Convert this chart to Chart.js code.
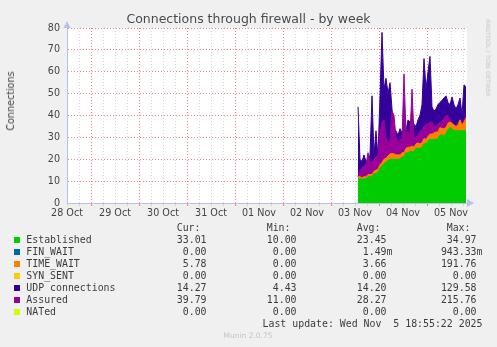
<!DOCTYPE html>
<html>
<head>
<meta charset="utf-8">
<script src="https://cdn.jsdelivr.net/npm/chart.js@4.4.0/dist/chart.umd.min.js"></script>
<style>
  html, body { margin: 0; padding: 0; background: #f0f0f0; }
  #wrap { position: relative; width: 497px; height: 347px; overflow: hidden; font-family: "DejaVu Sans", sans-serif; }
  #myChart { position: absolute; left: 0; top: 0; }
  .t { position: absolute; white-space: pre; line-height: 12px; color: #3c3c3c; }
  .mono { font-family: "DejaVu Sans Mono", monospace; font-size: 9.9px; }
  .sq { position: absolute; width: 6px; height: 6px; }
</style>
</head>
<body>
<div id="wrap">
  <canvas id="myChart" width="497" height="347"></canvas>
  <div class="t" style="left:0;width:497px;top:11px;line-height:15px;text-align:center;font-size:12.5px;color:#4a4a4a;">Connections through firewall - by week</div>
  <div class="t" style="left:11px;top:101px;font-size:9.6px;color:#444;transform:translate(-50%,-50%) rotate(-90deg);">Connections</div>
  <div class="t" style="left:488px;top:58px;font-size:6px;color:#c4c4c4;transform:translate(-50%,-50%) rotate(90deg);">RRDTOOL / TOBI OETIKER</div>
</div>
<script>
// hours since 28 Oct 00:00, one sample per hour
const hours = [145.5, 146.5, 147.5, 148.5, 149.5, 150.5, 151.5, 152.5, 153.5, 154.5,
  155.5, 156.5, 157.5, 158.5, 159.5, 160.5, 161.5, 162.5, 163.5, 164.5,
  165.5, 166.5, 167.5, 168.5, 169.5, 170.5, 171.5, 172.5, 173.5, 174.5,
  175.5, 176.5, 177.5, 178.5, 179.5, 180.5, 181.5, 182.5, 183.5, 184.5,
  185.5, 186.5, 187.5, 188.5, 189.5, 190.5, 191.5, 192.5, 193.5, 194.5,
  195.5, 196.5, 197.5, 198.5, 199.5];

const established = [11, 11, 11, 11, 11, 12, 12, 12, 13.5, 13.5,
  14, 16, 17, 18, 18.5, 19.5, 20, 20, 20, 20,
  20, 20, 21, 21, 23, 23, 23.5, 23.5, 23.5, 25,
  25, 25, 25.5, 27, 27, 28.5, 29, 29, 29, 29,
  29.5, 31, 31, 31, 31.5, 33.5, 34.5, 34, 33, 33,
  33, 33, 33, 33, 33];

const timeWait = [1, 1, 0.5, 1, 1, 1, 1, 1, 1, 1.5,
  1.5, 1.5, 1.5, 2, 2, 2, 2.5, 2.5, 2.5, 2,
  2, 2, 2, 2, 2, 2.5, 2, 2.5, 2, 2,
  2.5, 2, 2, 2.5, 2, 2, 2.5, 2.5, 3, 3.5,
  3, 3.5, 3, 3, 3, 3, 2.5, 2.5, 2.5, 2,
  2.5, 5, 2.5, 4, 5.8];

const udp = [32, 8, 7.5, 10, 7, 7, 9, 36, 7.5, 18,
  5.5, 31.5, 59.5, 32, 36.5, 28.5, 32.5, 20.5, 7.5, 11,
  9, 12, 9, 12, 8, 12.5, 11.5, 13, 10.5, 8,
  10.5, 13, 17.5, 36.5, 23, 29.5, 35.5, 12.5, 10, 10.5,
  12.5, 11.5, 13, 14, 14.5, 9.5, 8, 12, 9.5, 8,
  9.5, 10, 5, 17, 14.3];

const assured = [12, 15, 16, 17, 17.5, 23, 19, 19, 20, 21,
  21.5, 32, 37, 38, 30, 27, 29, 42, 40, 30,
  28, 29, 29, 59, 32, 33, 31, 52, 30, 30,
  31, 33, 33, 35, 36, 36, 37, 37, 35, 35,
  36, 37, 37, 39, 40, 40, 38, 36, 36, 35,
  37, 38, 36, 38, 39.8];

const dayLabels = ['28 Oct', '29 Oct', '30 Oct', '31 Oct', '01 Nov', '02 Nov', '03 Nov', '04 Nov', '05 Nov'];

const legendNames = ['Established', 'FIN_WAIT', 'TIME_WAIT', 'SYN_SENT', 'UDP connections', 'Assured', 'NATed'];
const legendColors = ['#00cc00', '#0066b3', '#ff8000', '#ffcc00', '#330099', '#990099', '#ccff00'];
const curVals = ['33.01', '0.00', '5.78', '0.00', '14.27', '39.79', '0.00'];
const minVals = ['10.00', '0.00', '0.00', '0.00', '4.43', '11.00', '0.00'];
const avgVals = ['23.45', '1.49m', '3.66', '0.00', '14.20', '28.27', '0.00'];
const maxVals = ['34.97', '943.33m', '191.76', '0.00', '129.58', '215.76', '0.00'];

// stacked tops, rrd style (each area filled down to 0, painted in order)
const twTop = established.map((v, i) => v + timeWait[i]);
const udpTop = twTop.map((v, i) => v + udp[i]);
const pts = (arr) => arr.map((v, i) => ({ x: hours[i], y: v }));

const tickFont = { family: 'DejaVu Sans', size: 9.6 };
const minorGrid = '#d4d4d4';
const majorGrid = 'rgba(225, 60, 60, 0.62)';
const axisColor = '#b8c0f2';

const muninBg = {
  id: 'muninBg',
  beforeDraw(chart) {
    const { ctx, chartArea: a } = chart;
    ctx.save();
    ctx.fillStyle = '#f0f0f0';
    ctx.fillRect(0, 0, chart.width, chart.height);
    ctx.fillStyle = '#ffffff';
    ctx.fillRect(a.left, a.top, a.right - a.left, a.bottom - a.top);
    ctx.restore();
  },
  afterDraw(chart) {
    const { ctx, chartArea: a } = chart;
    ctx.save();
    ctx.fillStyle = axisColor;
    ctx.beginPath(); // x arrow
    ctx.moveTo(a.right, a.bottom - 4);
    ctx.lineTo(a.right + 7, a.bottom);
    ctx.lineTo(a.right, a.bottom + 4);
    ctx.fill();
    ctx.beginPath(); // y arrow
    ctx.moveTo(a.left - 3.5, a.top);
    ctx.lineTo(a.left, a.top - 7);
    ctx.lineTo(a.left + 3.5, a.top);
    ctx.fill();
    ctx.restore();
  }
};

const ds = (label, data, color, order) => ({
  label, data: pts(data), backgroundColor: color, borderColor: color,
  borderWidth: 1, fill: 'origin', order, pointRadius: 0, tension: 0
});

new Chart(document.getElementById('myChart'), {
  type: 'line',
  data: {
    datasets: [
      ds('Established', established, '#00cc00', 1),
      ds('TIME_WAIT', twTop, '#ff8000', 2),
      ds('Assured', assured, '#990099', 3),
      ds('UDP connections', udpTop, '#330099', 4)
    ]
  },
  options: {
    responsive: false,
    animation: false,
    layout: { padding: { top: 28, right: 30, left: 0, bottom: 0 } },
    plugins: { legend: { display: false }, tooltip: { enabled: false } },
    scales: {
      x: {
        type: 'linear', min: 0, max: 200,
        afterFit: (s) => { s.height = 144; },
        ticks: {
          stepSize: 6, includeBounds: false, autoSkip: false, maxRotation: 0,
          padding: 2, font: tickFont, color: '#444',
          callback: (v) => (v % 24 === 0 ? dayLabels[v / 24] : '')
        },
        grid: {
          color: (c) => (c.tick && c.tick.value % 24 === 12 ? majorGrid : minorGrid),
          tickLength: 3
        },
        border: { color: axisColor, dash: [1, 2] }
      },
      y: {
        min: 0, max: 80,
        afterFit: (s) => { s.width = 67; },
        ticks: {
          stepSize: 5, padding: 7, font: tickFont, color: '#444',
          callback: (v) => (v % 10 === 0 ? String(v) : '')
        },
        grid: {
          color: (c) => (c.tick && c.tick.value % 10 === 0 ? majorGrid : minorGrid),
          drawTicks: false
        },
        border: { color: axisColor, dash: [1, 2] }
      }
    }
  },
  plugins: [muninBg]
});

// legend table below the graph
const wrap = document.getElementById('wrap');
function addText(txt, css) {
  const d = document.createElement('div');
  d.className = 't mono';
  d.textContent = txt;
  d.style.cssText = css;
  wrap.appendChild(d);
}
const headX = [176.7, 266.7, 356.7, 446.7];
const colEdge = [212.5, 302.5, 392.5, 482.5];
['Cur:', 'Min:', 'Avg:', 'Max:'].forEach((h, j) => addText(h, `left:${headX[j]}px;top:222px;`));
const cols = [curVals, minVals, avgVals, maxVals];
legendNames.forEach((name, i) => {
  const yc = 240 + i * 12;
  const sq = document.createElement('div');
  sq.className = 'sq';
  sq.style.cssText = `left:14px;top:${yc - 3}px;background:${legendColors[i]};`;
  wrap.appendChild(sq);
  addText(name, `left:26.3px;top:${yc - 6}px;`);
  cols.forEach((vals, j) => {
    const s = vals[i].endsWith('m') ? vals[i] : vals[i] + ' ';
    addText(s, `right:${497 - colEdge[j]}px;top:${yc - 6}px;`);
  });
});
addText('Last update: Wed Nov  5 18:55:22 2025', 'right:14.5px;top:318px;');
const foot = document.createElement('div');
foot.className = 't';
foot.textContent = 'Munin 2.0.75';
foot.style.cssText = 'left:0;width:496px;text-align:center;top:330px;font-size:7.5px;color:#c4c4c4;';
wrap.appendChild(foot);
</script>
</body>
</html>
